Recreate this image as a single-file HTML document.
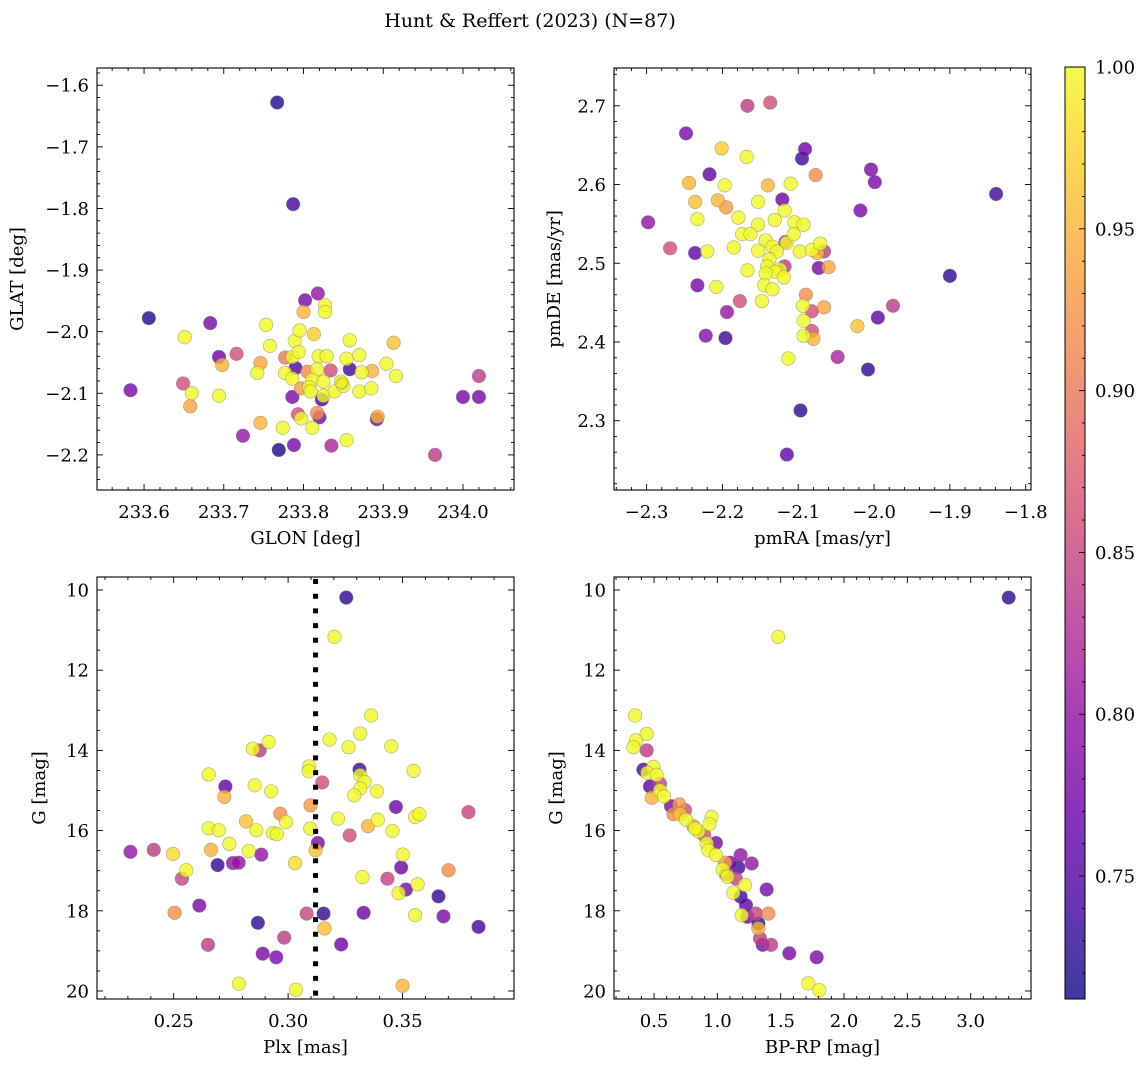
<!DOCTYPE html>
<html><head><meta charset="utf-8"><style>
html,body{margin:0;padding:0;background:#fff;}
svg{display:block;font-family:"DejaVu Serif","Liberation Serif",serif;}
</style></head><body>
<svg id="fig" width="1148" height="1067" viewBox="0 0 1148 1067" xmlns="http://www.w3.org/2000/svg">
<defs>
<linearGradient id="plasmaGrad" x1="0" y1="1" x2="0" y2="0">
<stop offset="0" stop-color="#0d0887"/><stop offset="0.1" stop-color="#41049d"/><stop offset="0.2" stop-color="#6a00a8"/><stop offset="0.3" stop-color="#8f0da4"/><stop offset="0.4" stop-color="#b12a90"/><stop offset="0.5" stop-color="#cc4778"/><stop offset="0.6" stop-color="#e16462"/><stop offset="0.7" stop-color="#f2844b"/><stop offset="0.8" stop-color="#fca636"/><stop offset="0.9" stop-color="#fcce25"/><stop offset="1" stop-color="#f0f921"/>
</linearGradient>
</defs>
<text x="530" y="27" text-anchor="middle" font-size="19">Hunt &amp; Reffert (2023) (N=87)</text>
</svg>
<script>
// ---- data: GLON/GLAT panel ----
const tlGlon=[233.583,233.606,233.651,233.683,233.694,233.698,233.716,233.649,233.660,233.658,233.694,233.724,233.746,233.769,233.774,233.788,233.753,233.758,233.746,233.742,233.777,233.777,233.786,233.789,233.794,233.795,233.790,233.786,233.800,233.802,233.818,233.827,233.827,233.813,233.819,233.829,233.805,233.817,233.834,233.811,233.797,233.807,233.809,233.825,233.825,233.823,233.839,233.786,233.793,233.797,233.811,233.817,233.820,233.835,233.854,233.848,233.850,233.847,233.858,233.854,233.858,233.870,233.873,233.886,233.870,233.885,233.893,233.892,233.904,233.916,233.913,233.965,234.000,234.020,234.020,233.767,233.787];
const tlGlat=[-2.095,-1.978,-2.009,-1.986,-2.041,-2.054,-2.036,-2.084,-2.100,-2.121,-2.104,-2.169,-2.148,-2.192,-2.156,-2.184,-1.989,-2.023,-2.051,-2.067,-2.042,-2.067,-2.041,-2.015,-2.033,-1.998,-2.059,-2.076,-1.968,-1.949,-1.938,-1.957,-1.968,-2.004,-2.040,-2.040,-2.065,-2.061,-2.063,-2.078,-2.092,-2.090,-2.097,-2.081,-2.104,-2.110,-2.097,-2.106,-2.134,-2.141,-2.156,-2.132,-2.139,-2.185,-2.176,-2.084,-2.088,-2.081,-2.061,-2.044,-2.014,-2.038,-2.066,-2.064,-2.097,-2.092,-2.138,-2.142,-2.052,-2.072,-2.018,-2.200,-2.106,-2.106,-2.072,-1.628,-1.793];
const tlProb=[0.78,0.72,1,0.78,0.77,0.95,0.86,0.86,1,0.94,1,0.80,0.95,0.72,1,0.78,1,1,0.94,1,0.90,1,1,1,1,1,0.75,1,0.95,0.78,0.80,1,1,0.97,1,1,0.92,1,0.86,1,0.93,1,1,1,1,0.74,1,0.78,0.86,1,1,0.92,0.78,0.82,1,0.80,1,1,0.74,1,1,1,1,0.95,1,1,0.95,0.76,1,1,0.96,0.84,0.78,0.78,0.84,0.72,0.74];
// ---- data: proper motion panel ----
const trPmra=[-2.298,-2.248,-2.269,-2.236,-2.220,-2.233,-2.236,-2.244,-2.217,-2.201,-2.168,-2.167,-2.137,-2.197,-2.206,-2.195,-2.179,-2.153,-2.140,-2.110,-2.121,-2.118,-2.131,-2.153,-2.174,-2.163,-2.185,-2.143,-2.153,-2.134,-2.128,-2.117,-2.115,-2.105,-2.093,-2.106,-2.098,-2.082,-2.071,-2.066,-2.075,-2.073,-2.060,-2.138,-2.141,-2.118,-2.124,-2.130,-2.143,-2.119,-2.145,-2.134,-2.167,-2.208,-2.233,-2.148,-2.177,-2.194,-2.222,-2.196,-2.095,-2.091,-2.077,-2.004,-1.999,-2.018,-1.839,-1.900,-1.975,-1.995,-2.022,-2.048,-2.008,-2.090,-2.094,-2.082,-2.066,-2.093,-2.082,-2.093,-2.080,-2.113,-2.097,-2.115];
const trPmde=[2.552,2.665,2.519,2.513,2.515,2.556,2.578,2.602,2.613,2.646,2.635,2.700,2.704,2.599,2.580,2.571,2.558,2.578,2.599,2.601,2.581,2.567,2.555,2.549,2.537,2.537,2.520,2.529,2.516,2.521,2.515,2.527,2.526,2.552,2.549,2.537,2.515,2.517,2.525,2.515,2.513,2.494,2.495,2.505,2.496,2.496,2.492,2.489,2.487,2.482,2.472,2.467,2.491,2.470,2.472,2.452,2.452,2.438,2.408,2.405,2.633,2.645,2.612,2.619,2.603,2.567,2.588,2.484,2.446,2.431,2.420,2.381,2.365,2.460,2.446,2.439,2.444,2.427,2.414,2.408,2.404,2.379,2.313,2.257];
const trProb=[0.80,0.78,0.86,0.76,1,1,0.96,0.95,0.76,0.97,1,0.84,0.86,1,0.95,0.93,1,1,0.95,1,0.77,1,1,1,1,1,1,1,1,1,1,0.85,1,1,1,1,1,1,1,0.84,0.96,0.78,0.94,1,1,0.84,1,1,1,1,1,1,1,1,0.78,1,0.86,0.80,0.79,0.74,0.74,0.77,0.92,0.78,0.78,0.78,0.74,0.73,0.84,0.76,0.96,0.82,0.73,0.92,1,0.86,0.94,1,0.86,1,0.95,1,0.73,0.76];
// ---- data: parallax vs G panel ----
const blPlx=[0.3254,0.3203,0.3363,0.3315,0.3181,0.3264,0.3451,0.2846,0.2876,0.2915,0.3548,0.3312,0.3315,0.3092,0.3090,0.3334,0.3315,0.3289,0.3388,0.3149,0.2653,0.2726,0.2854,0.2926,0.2721,0.3098,0.3471,0.3788,0.3555,0.3574,0.2966,0.3218,0.3392,0.3349,0.2991,0.2816,0.2653,0.2697,0.2861,0.3097,0.2934,0.2951,0.3269,0.3456,0.2743,0.3130,0.3120,0.2663,0.2828,0.2883,0.2311,0.2413,0.2497,0.3030,0.3501,0.3494,0.2692,0.2759,0.2784,0.2555,0.2536,0.3325,0.3434,0.3701,0.3515,0.3566,0.3483,0.3657,0.2612,0.2504,0.3081,0.3155,0.3330,0.3555,0.3679,0.3832,0.2868,0.3159,0.2983,0.2650,0.2889,0.2948,0.3232,0.2785,0.3034,0.3500];
const blG=[10.19,11.17,13.13,13.58,13.73,13.92,13.90,13.96,14.00,13.79,14.51,14.48,14.62,14.40,14.52,14.79,14.95,15.12,15.02,14.80,14.60,14.90,14.87,15.02,15.16,15.37,15.41,15.54,15.66,15.59,15.58,15.70,15.73,15.89,15.79,15.77,15.94,15.99,15.99,15.95,16.06,16.09,16.12,16.01,16.33,16.31,16.49,16.48,16.51,16.60,16.53,16.48,16.58,16.81,16.60,16.92,16.86,16.81,16.80,16.99,17.20,17.16,17.20,16.99,17.47,17.34,17.56,17.64,17.87,18.05,18.07,18.07,18.05,18.11,18.14,18.40,18.30,18.44,18.67,18.85,19.07,19.16,18.84,19.82,19.97,19.87];
const blProb=[0.73,1,1,1,1,1,1,1,0.84,1,1,0.74,1,1,1,1,1,1,1,0.86,1,0.76,1,1,0.95,0.93,0.77,0.85,1,1,0.92,1,1,0.95,1,0.96,1,1,1,1,1,1,0.86,1,1,0.78,0.96,0.95,1,0.80,0.80,0.84,0.98,0.98,1,0.77,0.73,0.80,0.80,1,0.85,1,0.85,0.92,0.78,1,1,0.73,0.78,0.92,0.85,0.73,0.77,1,0.78,0.74,0.73,0.96,0.84,0.84,0.78,0.78,0.77,1,1,0.95];
const plxLine=[0.312];
// ---- data: colour-magnitude panel ----
const brColor=[0.350,0.442,0.442,0.358,0.337,0.416,0.495,0.447,0.521,0.468,0.547,0.482,0.547,0.579,0.634,0.700,0.653,0.745,0.705,0.753,0.811,0.850,0.824,0.955,0.937,0.897,0.989,0.916,0.929,0.989,1.184,1.271,1.061,1.100,1.166,1.042,1.068,1.079,1.147,1.218,1.126,1.184,1.389,1.226,1.192,1.237,1.305,1.403,1.324,1.324,1.337,1.358,1.424,1.568,1.784,1.718,1.805,3.30,1.48];
const brG=[13.13,13.59,14.00,13.75,13.92,14.48,14.41,14.56,14.61,14.90,14.83,15.18,15.00,15.15,15.39,15.35,15.59,15.49,15.59,15.73,15.89,16.02,15.95,15.66,15.84,16.12,16.31,16.32,16.49,16.61,16.61,16.82,16.80,16.80,16.92,16.97,17.09,17.15,17.20,17.36,17.55,17.65,17.47,17.86,18.11,18.15,18.07,18.07,18.32,18.44,18.69,18.85,18.85,19.06,19.16,19.81,19.98,10.19,11.17];
const brProb=[1,1,0.84,1,1,0.75,1,1,1,0.76,0.85,0.95,1,1,0.78,0.93,0.92,0.86,0.96,1,0.93,1,1,1,1,0.86,0.78,1,1,1,0.80,0.80,0.94,0.78,0.74,1,0.85,1,0.85,1,1,0.74,0.78,0.76,1,0.78,0.85,0.92,0.73,0.95,0.84,0.78,0.84,0.78,0.78,1,1,0.73,1];
const cbTicks=[0.75,0.80,0.85,0.90,0.95,1.00];

const NS="http://www.w3.org/2000/svg";
const svg=document.getElementById('fig');
const VMIN=0.712,VMAX=1.0;
const FS=18;
const stops=[[13,8,135],[65,4,157],[106,0,168],[143,13,164],[177,42,144],[204,71,120],[225,100,98],[242,132,75],[252,166,54],[252,206,37],[240,249,33]];
function plasma(p){let t=(p-VMIN)/(VMAX-VMIN);t=Math.max(0,Math.min(1,t));const f=t*10,i=Math.min(9,Math.floor(f)),r=f-i;const a=stops[i],b=stops[i+1];return 'rgb('+[0,1,2].map(k=>Math.round(a[k]+(b[k]-a[k])*r)).join(',')+')';}
function mk(tag,attrs,parent){const e=document.createElementNS(NS,tag);for(const k in attrs)e.setAttribute(k,attrs[k]);(parent||svg).appendChild(e);return e;}
function fmt(v,d){const s=Math.abs(v).toFixed(d);return (v<-1e-9?'\u2212':'')+s;}

function panel(c){
  const g=mk('g',{});
  
  
  const sx=v=>c.x0+(v-c.xmin)/(c.xmax-c.xmin)*c.w;
  const sy=v=>c.y0+(v-c.ytop)/(c.ybot-c.ytop)*c.h;
  const idx=c.xs.map((_,i)=>i).sort((a,b)=>c.ps[a]-c.ps[b]);
  const pg=mk('g',{},g);
  
  
  idx.forEach(i=>{
    const cx=sx(c.xs[i]),cy=sy(c.ys[i]);
    if(cx<c.x0||cx>c.x0+c.w||cy<c.y0||cy>c.y0+c.h)return;
    const pt=mk('circle',{cx:cx,cy:cy,r:6.8,fill:plasma(c.ps[i]),'fill-opacity':0.8,stroke:'#777','stroke-opacity':0.6,'stroke-width':0.6},pg);
    
    
  });
  if(c.vline){c.vline.forEach(v=>{const l=mk('line',{x1:sx(v),x2:sx(v),y1:c.y0+2,y2:c.y0+c.h,stroke:'#000','stroke-width':5,'stroke-dasharray':'5 9.7'},g);
    
    });}
  const fr=mk('rect',{x:c.x0,y:c.y0,width:c.w,height:c.h,fill:'none',stroke:'#000','stroke-width':1.1},g);
  
  
  const xa=mk('g',{},g);
  
  
  const nx0=Math.ceil(c.xmin/c.xminor-1e-6),nx1=Math.floor(c.xmax/c.xminor+1e-6);
  const rat=Math.round(c.xmajor/c.xminor);
  for(let n=nx0;n<=nx1;n++){const v=n*c.xminor,x=sx(v),maj=(((n%rat)+rat)%rat)===0,L=maj?6:3;
    mk('line',{x1:x,x2:x,y1:c.y0+c.h,y2:c.y0+c.h-L,stroke:'#000','stroke-width':0.9},xa);
    mk('line',{x1:x,x2:x,y1:c.y0,y2:c.y0+L,stroke:'#000','stroke-width':0.9},xa);
    if(maj){const t=mk('text',{x:x,y:c.y0+c.h+28,'text-anchor':'middle','font-size':FS},xa);t.textContent=fmt(v,c.xd);
      
      }
  }
  const ny0=Math.ceil(Math.min(c.ytop,c.ybot)/c.yminor-1e-6),ny1=Math.floor(Math.max(c.ytop,c.ybot)/c.yminor+1e-6);
  const ry=Math.round(c.ymajor/c.yminor);
  const ya=mk('g',{},g);
  
  
  for(let n=ny0;n<=ny1;n++){const v=n*c.yminor,y=sy(v),maj=(((n%ry)+ry)%ry)===0,L=maj?6:3;
    mk('line',{x1:c.x0,x2:c.x0+L,y1:y,y2:y,stroke:'#000','stroke-width':0.9},ya);
    mk('line',{x1:c.x0+c.w,x2:c.x0+c.w-L,y1:y,y2:y,stroke:'#000','stroke-width':0.9},ya);
    if(maj){const t=mk('text',{x:c.x0-8,y:y+6.5,'text-anchor':'end','font-size':FS},ya);t.textContent=fmt(v,c.yd);
      
      }
  }
  const xt=mk('text',{x:c.x0+c.w/2,y:c.y0+c.h+54,'text-anchor':'middle','font-size':FS},g);xt.textContent=c.xlabel;
  
  
  const yx=c.ylx,yy=c.y0+c.h/2;
  const yt=mk('text',{x:yx,y:yy,'text-anchor':'middle','font-size':FS,transform:'rotate(-90 '+yx+' '+yy+')'},g);yt.textContent=c.ylabel;
  
  
}

panel({name:'glon-glat-panel',x0:97,y0:68,w:417,h:422,xmin:233.541,xmax:234.064,ytop:-1.572,ybot:-2.257,xmajor:0.1,xminor:0.02,ymajor:0.1,yminor:0.02,xd:1,yd:1,xs:tlGlon,ys:tlGlat,ps:tlProb,xlabel:'GLON [deg]',ylabel:'GLAT [deg]',ylx:23});
panel({name:'proper-motion-panel',x0:614,y0:68,w:417,h:422,xmin:-2.343,xmax:-1.793,ytop:2.748,ybot:2.212,xmajor:0.1,xminor:0.02,ymajor:0.1,yminor:0.02,xd:1,yd:1,xs:trPmra,ys:trPmde,ps:trProb,xlabel:'pmRA [mas/yr]',ylabel:'pmDE [mas/yr]',ylx:560});
panel({name:'parallax-panel',x0:97,y0:577,w:417,h:422,xmin:0.2165,xmax:0.3987,ytop:9.676,ybot:20.2,xmajor:0.05,xminor:0.01,ymajor:2,yminor:0.5,xd:2,yd:0,xs:blPlx,ys:blG,ps:blProb,vline:plxLine,xlabel:'Plx [mas]',ylabel:'G [mag]',ylx:45});
panel({name:'cmd-panel',x0:614,y0:577,w:417,h:422,xmin:0.184,xmax:3.476,ytop:9.676,ybot:20.2,xmajor:0.5,xminor:0.1,ymajor:2,yminor:0.5,xd:1,yd:0,xs:brColor,ys:brG,ps:brProb,xlabel:'BP-RP [mag]',ylabel:'G [mag]',ylx:562});

(function(){
  const x0=1065,w=20,y0=67,h=932;
  const g=mk('g',{});
  
  
  mk('rect',{x:x0,y:y0,width:w,height:h,fill:'url(#plasmaGrad)','fill-opacity':0.8},g);
  mk('rect',{x:x0,y:y0,width:w,height:h,fill:'none',stroke:'#000','stroke-width':1},g);
  const sy=v=>y0+h-(v-VMIN)/(VMAX-VMIN)*h;
  for(let n=72;n<=100;n++){const v=n/100,y=sy(v),maj=n%5===0,L=maj?6:3;
    mk('line',{x1:x0+w,x2:x0+w-L,y1:y,y2:y,stroke:'#000','stroke-width':0.9},g);}
  cbTicks.forEach(v=>{const t=mk('text',{x:x0+w+10,y:sy(v)+6.5,'font-size':FS},g);t.textContent=v.toFixed(2);
    
    });
})();
</script>
</body></html>
